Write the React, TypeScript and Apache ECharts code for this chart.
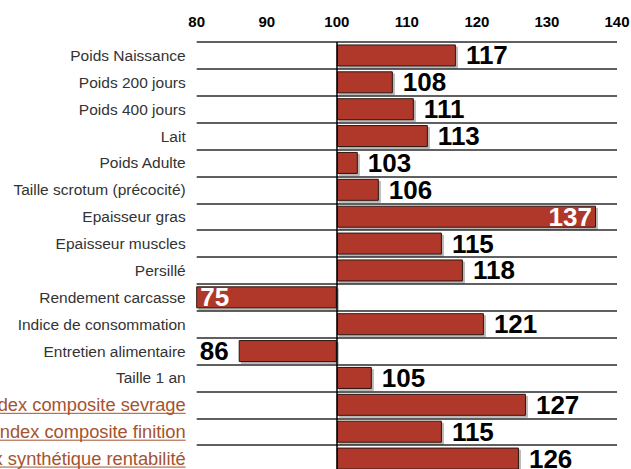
import React, { useEffect, useRef } from "react";
import * as echarts from "echarts";

const categories = [
  "Poids Naissance",
  "Poids 200 jours",
  "Poids 400 jours",
  "Lait",
  "Poids Adulte",
  "Taille scrotum (précocité)",
  "Epaisseur gras",
  "Epaisseur muscles",
  "Persillé",
  "Rendement carcasse",
  "Indice de consommation",
  "Entretien alimentaire",
  "Taille 1 an",
  "Index composite sevrage",
  "Index composite finition",
  "Index synthétique rentabilité",
];
const values = [117, 108, 111, 113, 103, 106, 137, 115, 118, 75, 121, 86, 105, 127, 115, 126];
const linkCategories = [
  "Index composite sevrage",
  "Index composite finition",
  "Index synthétique rentabilité",
];
const axisMin = 80;
const axisMax = 140;
const axisStep = 10;
const baseValue = 100;

const FONT = '"Liberation Sans", Arial, Helvetica, sans-serif';
const LINK_COLOR = "#a5532f";
const BAR_COLOR = "#b0392a";
const LABEL_SIZE = 15.5;
const LINK_SIZE = 18.3;

export default function App() {
  const ref = useRef<HTMLDivElement>(null);
  useEffect(() => {
    if (!ref.current) return;
    const chart = echarts.init(ref.current, null, { renderer: "svg" });
    const baseData = values.map((v) => (v >= baseValue ? baseValue : v));
    const deltaData = values.map((v) => {
      let position = "right";
      let color = "#000";
      let distance = 10;
      if (v < axisMin) {
        position = "insideLeft";
        color = "#fff";
        distance = 4;
      } else if (v < baseValue) {
        position = "left";
      } else if (v > axisMax - 5) {
        position = "insideRight";
        color = "#fff";
        distance = 4;
      }
      return {
        value: Math.abs(v - baseValue),
        label: { position, color, distance },
      };
    });
    const gridLeft = 196.7;
    const labelMargin = 11;
    chart.setOption({
      animation: false,
      grid: {
        left: gridLeft,
        right: 14,
        top: 42,
        height: 430,
        containLabel: false,
        outerBoundsMode: "none",
      },
      xAxis: {
        type: "value",
        position: "top",
        min: axisMin,
        max: axisMax,
        interval: axisStep,
        axisLine: { show: false },
        axisTick: { show: false },
        splitLine: { show: false },
        axisLabel: {
          color: "#000",
          fontWeight: "bold",
          fontSize: 15,
          fontFamily: FONT,
          margin: 13,
        },
      },
      yAxis: {
        type: "category",
        inverse: true,
        data: categories,
        axisLine: { show: false },
        axisTick: { show: false },
        splitLine: { show: true, lineStyle: { color: "#2b2b2b", width: 1.5 } },
        axisLabel: {
          margin: labelMargin,
          color: "#333",
          fontSize: LABEL_SIZE,
          fontFamily: FONT,
          formatter: (val: string) =>
            linkCategories.includes(val) ? `{link|${val}}` : val,
          rich: {
            link: { color: LINK_COLOR, fontSize: LINK_SIZE, fontFamily: FONT },
          },
        },
      },
      series: [
        {
          type: "bar",
          stack: "s",
          data: baseData,
          barWidth: 22,
          silent: true,
          itemStyle: { color: "transparent" },
          emphasis: { disabled: true },
        },
        {
          type: "bar",
          stack: "s",
          data: deltaData,
          barWidth: 22,
          silent: true,
          itemStyle: {
            color: BAR_COLOR,
            borderColor: "#2a1510",
            borderWidth: 1,
            shadowColor: "rgba(0,0,0,0.28)",
            shadowOffsetX: 2,
            shadowOffsetY: 2,
            shadowBlur: 0,
          },
          emphasis: { disabled: true },
          label: {
            show: true,
            fontSize: 26,
            fontWeight: "bold",
            fontFamily: FONT,
            formatter: (p: any) => String(values[p.dataIndex]),
          },
          markLine: {
            silent: true,
            symbol: "none",
            label: { show: false },
            lineStyle: { color: "#000", width: 1.5, type: "solid" },
            data: [{ xAxis: baseValue }],
          },
        },
      ],
    });

    // underline the link-styled category labels
    const canvas = document.createElement("canvas");
    const ctx = canvas.getContext("2d");
    const graphics: any[] = [];
    if (ctx) {
      ctx.font = `${LINK_SIZE}px ${FONT}`;
      const gridRect = (chart as any).getModel().getComponent("grid").coordinateSystem.getRect();
      const right = gridRect.x - labelMargin;
      linkCategories.forEach((c) => {
        const y = chart.convertToPixel({ yAxisIndex: 0 }, c) as number;
        const w = ctx.measureText(c).width;
        graphics.push({
          type: "line",
          silent: true,
          shape: { x1: right - w, y1: y + 8.5, x2: right, y2: y + 8.5 },
          style: { stroke: LINK_COLOR, lineWidth: 1 },
        });
      });
    }
    chart.setOption({ graphic: graphics });

    return () => chart.dispose();
  }, []);
  return (
    <div
      ref={ref}
      style={{ position: "fixed", left: 0, top: 0, width: 631, height: 469, background: "#fff" }}
    />
  );
}
